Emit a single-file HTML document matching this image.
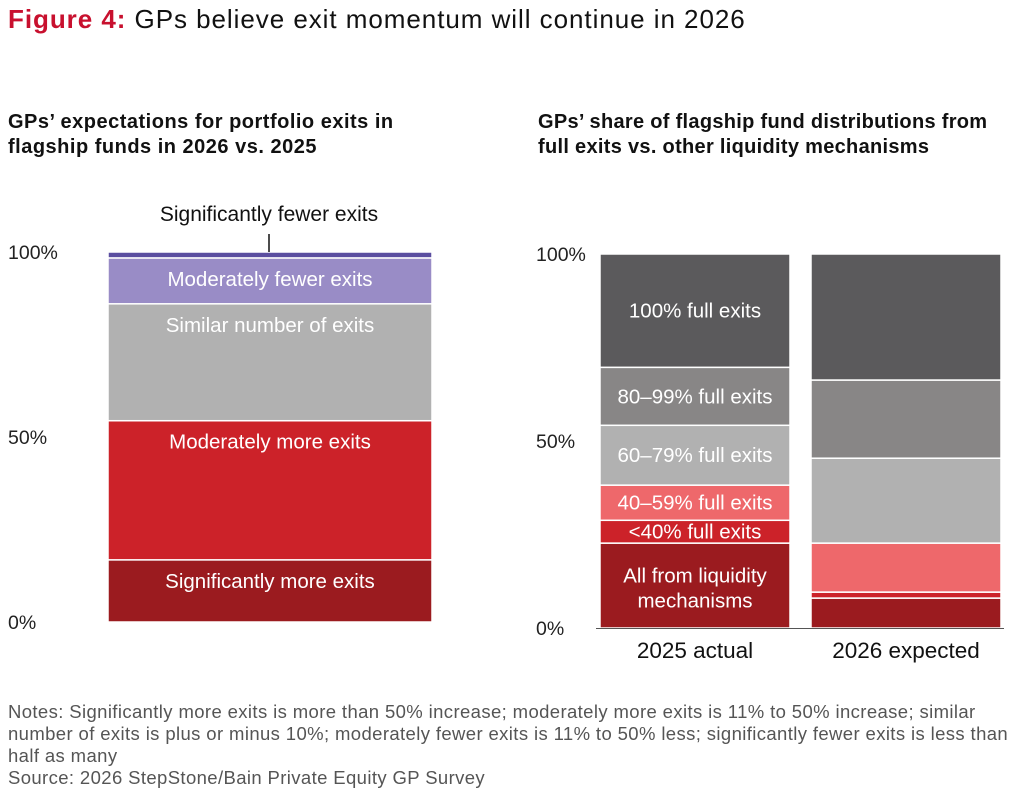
<!DOCTYPE html>
<html><head><meta charset="utf-8">
<style>
body{margin:0;background:#fff;font-family:"Liberation Sans",sans-serif;}
#wrap{position:relative;width:1016px;height:794px;overflow:hidden;}
.t{position:absolute;white-space:nowrap;}
</style></head>
<body>
<div id="wrap">
<div class="t" style="left:8px;top:4px;font-size:26px;letter-spacing:0.95px;color:#111;"><b style="color:#c8102e">Figure 4:</b> GPs believe exit momentum will continue in 2026</div>
<div class="t" style="left:8px;top:110px;font-size:20px;letter-spacing:0.5px;font-weight:bold;line-height:25px;color:#111;">GPs’ expectations for portfolio exits in<br>flagship funds in 2026 vs. 2025</div>
<div class="t" style="left:538px;top:110px;font-size:20px;letter-spacing:0.3px;font-weight:bold;line-height:25px;color:#111;">GPs’ share of flagship fund distributions from<br>full exits vs. other liquidity mechanisms</div>
<svg id="chart" width="1016" height="794" style="position:absolute;left:0;top:0"></svg>
<div class="t" style="left:8px;top:701px;font-size:18.5px;letter-spacing:0.38px;line-height:22px;color:#555;">Notes: Significantly more exits is more than 50% increase; moderately more exits is 11% to 50% increase; similar<br>number of exits is plus or minus 10%; moderately fewer exits is 11% to 50% less; significantly fewer exits is less than<br>half as many<br>Source: 2026 StepStone/Bain Private Equity GP Survey</div>
</div>
<script>
const leftCategories=["Significantly more exits","Moderately more exits","Similar number of exits","Moderately fewer exits","Significantly fewer exits"];
const leftValues=[16.8,37.6,31.6,12.4,1.6];
const leftColors=["#9b1b1f","#cc2229","#b1b1b1","#998cc6","#5b4ea0"];
const rightCategories=["All from liquidity mechanisms","<40% full exits","40–59% full exits","60–79% full exits","80–99% full exits","100% full exits"];
const rightBars=["2025 actual","2026 expected"];
const values2025=[22.7,6.1,9.4,16.0,15.5,30.3];
const values2026=[8.0,1.6,13.1,22.7,20.9,33.7];
const rightColors=["#9b1b1f","#cc2229","#ee686b","#b1b1b1","#888686","#5b5a5c"];
const yTicks=[0,50,100];
const svg=document.getElementById('chart');
const NS="http://www.w3.org/2000/svg";
function mk(tag,attrs,parent){const e=document.createElementNS(NS,tag);for(const k in attrs)e.setAttribute(k,attrs[k]);(parent||svg).appendChild(e);return e;}
function txt(s,x,y,size,fill,anchor){const e=mk('text',{x:x,y:y,'font-size':size,fill:fill,'text-anchor':anchor||'middle','font-family':'Liberation Sans, sans-serif'});e.textContent=s;return e;}
// left
const lY=v=>622-v*3.7;
yTicks.forEach(t=>{const e=txt(t+'%',8,lY(t)+7,19.5,'#222','start');});
let acc=0;
leftValues.forEach((v,i)=>{
 const y0=lY(acc),y1=lY(acc+v);
 const r=mk('rect',{x:108,y:y1,width:324,height:y0-y1,fill:leftColors[i],stroke:'#fff','stroke-width':1.5});
 
 if(v>5){const e=txt(leftCategories[i],270,y1+28,20.5,'#fff');}
 acc+=v;
});
{const e=txt(leftCategories[4],269,221,21,'#111');
 const l=mk('line',{x1:269,y1:234,x2:269,y2:252,stroke:'#111','stroke-width':1.5});}
// right
const rY=v=>628-v*3.74;
yTicks.forEach(t=>{const e=txt(t+'%',536,rY(t)+7,19.5,'#222','start');});
const barX=[600,811];
[values2025,values2026].forEach((vals,b)=>{
 let a=0;
 vals.forEach((v,i)=>{
  const y0=rY(a),y1=rY(a+v);
  const r=mk('rect',{x:barX[b],y:y1,width:190,height:y0-y1,fill:rightColors[i],stroke:'#fff','stroke-width':1.5});
  
  if(b===0){
   const cy=(y0+y1)/2;
   if(i===0){const e=txt('All from liquidity',695,cy-3,20.5,'#fff');
    const e2=txt('mechanisms',695,cy+22,20.5,'#fff');}
   else{const e=txt(rightCategories[i],695,cy+7,20.5,'#fff');}
  }
  a+=v;
 });
 const e=txt(rightBars[b],barX[b]+95,658,22.5,'#111');
});
const ax=mk('line',{x1:596,y1:628.5,x2:1004,y2:628.5,stroke:'#555','stroke-width':1});

</script>
</body></html>
